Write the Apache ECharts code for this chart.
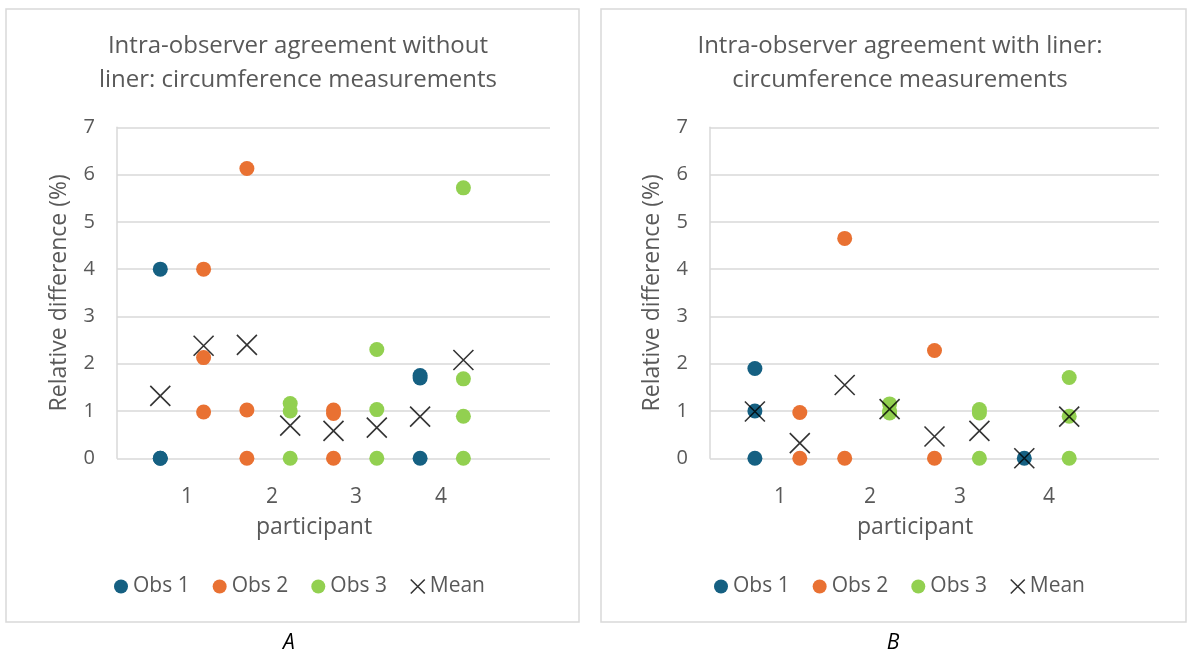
<!DOCTYPE html>
<html>
<head>
<meta charset="utf-8">
<script src="https://cdn.jsdelivr.net/npm/echarts@6/dist/echarts.min.js"></script>
<style>
  html, body { margin: 0; padding: 0; background: #ffffff; }
  #chart { width: 1189px; height: 657px; }
</style>
</head>
<body>
<div id="chart"></div>
<script>
// Relative difference (%) between repeated circumference measurements.
// Each point is [slot, value]; slots 1-8 run two per participant.
const participantLabels = ['1', '2', '3', '4'];
const seriesNames = ['Obs 1', 'Obs 2', 'Obs 3', 'Mean'];
const panelTitles = [
  'Intra-observer agreement without\nliner: circumference measurements',
  'Intra-observer agreement with liner:\ncircumference measurements'
];
const panelCaptions = ['A', 'B'];

// Without liner
const noLinerObs1 = [[1, 4.0], [1, 0], [1, 0], [7, 1.75], [7, 1.70], [7, 0]];
const noLinerObs2 = [[2, 4.0], [2, 2.13], [2, 0.98], [3, 6.13], [3, 1.02], [3, 0],
                     [5, 1.02], [5, 0.95], [5, 0]];
const noLinerObs3 = [[4, 1.16], [4, 1.0], [4, 0], [6, 2.30], [6, 1.03], [6, 0],
                     [8, 5.72], [8, 1.68], [8, 0.89], [8, 0]];
const noLinerMean = [[1, 1.32], [2, 2.38], [3, 2.40], [4, 0.69], [5, 0.58], [6, 0.65],
                     [7, 0.88], [8, 2.08]];

// With liner
const linerObs1 = [[1, 1.90], [1, 1.0], [1, 0], [7, 0]];
const linerObs2 = [[2, 0.97], [2, 0], [3, 4.65], [3, 0], [5, 2.28], [5, 0]];
const linerObs3 = [[4, 1.15], [4, 1.0], [4, 0.96], [6, 1.03], [6, 0.96], [6, 0],
                   [8, 1.71], [8, 0.89], [8, 0]];
const linerMean = [[1, 0.99], [2, 0.32], [3, 1.55], [4, 1.04], [5, 0.46], [6, 0.58],
                   [7, 0], [8, 0.88]];

const panels = [
  { obs: [noLinerObs1, noLinerObs2, noLinerObs3], mean: noLinerMean },
  { obs: [linerObs1, linerObs2, linerObs3], mean: linerMean }
];

const colors = ['#156082', '#E97132', '#92D050'];
const FONT = '"Open Sans", sans-serif';
const TEXT = '#595959';
const GRID_LINE = '#D9D9D9';
const CROSS = 'path://M0,0L20,20M20,0L0,20';

// Panel frames and plot areas (pixels)
const frames = [
  { x: 6, y: 9, w: 573, h: 613 },
  { x: 601, y: 9, w: 585, h: 613 }
];
const plots = [
  { left: 117, width: 433, titleX: 293, axisTitleX: 314, legendX: 109, captionX: 289,
    tickX: [187, 272, 356, 441] },
  { left: 710, width: 449, titleX: 895, axisTitleX: 915, legendX: 709, captionX: 893,
    tickX: [780, 870, 960, 1049] }
];
const PLOT_TOP = 127.3;
const PLOT_HEIGHT = 331;

const chart = echarts.init(document.getElementById('chart'), null, { renderer: 'canvas' });

const grid = plots.map(p => ({
  left: p.left, top: PLOT_TOP, width: p.width, height: PLOT_HEIGHT, containLabel: false
}));

const xAxis = plots.map((p, i) => ({
  type: 'value', gridIndex: i, min: 0, max: 10, show: false
}));

const yAxis = plots.map((p, i) => ({
  type: 'value', gridIndex: i, min: 0, max: 7, interval: 1,
  name: 'Relative difference (%)',
  nameLocation: 'middle', nameRotate: 90, nameGap: 46,
  nameTextStyle: { fontFamily: FONT, fontSize: 23, color: TEXT },
  axisLine: { show: true, lineStyle: { color: GRID_LINE, width: 1.5 } },
  axisTick: { show: false },
  axisLabel: { fontFamily: FONT, fontSize: 20, color: TEXT, margin: 22 },
  splitLine: { show: true, lineStyle: { color: GRID_LINE, width: 1.5 } }
}));

const series = [];
panels.forEach((panel, i) => {
  panel.obs.forEach((data, k) => {
    series.push({
      name: seriesNames[k], type: 'scatter', xAxisIndex: i, yAxisIndex: i,
      data: data, symbol: 'circle', symbolSize: 15,
      itemStyle: { color: colors[k], opacity: 1 },
      emphasis: { disabled: true }
    });
  });
  series.push({
    name: seriesNames[3], type: 'scatter', xAxisIndex: i, yAxisIndex: i,
    data: panel.mean, symbol: CROSS, symbolSize: 20, z: 5,
    itemStyle: { color: 'rgba(0,0,0,0)', borderColor: '#000000', borderWidth: 1.6 },
    emphasis: { disabled: true }
  });
});

const legend = plots.map(p => ({
  left: p.legendX, top: 571, itemWidth: 14, itemHeight: 14, itemGap: 23,
  textStyle: { fontFamily: FONT, fontSize: 21, color: TEXT },
  data: seriesNames.map((n, k) => k < 3
    ? { name: n, icon: 'circle', itemStyle: { color: colors[k] } }
    : { name: n, icon: CROSS, itemStyle: { color: 'rgba(0,0,0,0)', borderColor: '#000', borderWidth: 1.6 } })
}));

const title = plots.map((p, i) => ({
  text: panelTitles[i], left: p.titleX, top: 24, textAlign: 'center',
  textStyle: { fontFamily: FONT, fontSize: 24, fontWeight: 'normal', color: TEXT, lineHeight: 34 }
}));

const graphic = [];
frames.forEach(f => {
  graphic.push({
    type: 'rect', shape: { x: f.x, y: f.y, width: f.w, height: f.h },
    style: { fill: 'none', stroke: GRID_LINE, lineWidth: 1.5 }, silent: true
  });
});
plots.forEach((p, i) => {
  participantLabels.forEach((lab, j) => {
    graphic.push({
      type: 'text', x: p.tickX[j], y: 497,
      style: { text: lab, fontFamily: FONT, fontSize: 21, fill: TEXT,
               align: 'center', verticalAlign: 'middle' }, silent: true
    });
  });
  graphic.push({
    type: 'text', x: p.axisTitleX, y: 527,
    style: { text: 'participant', fontFamily: FONT, fontSize: 23, fill: TEXT,
             align: 'center', verticalAlign: 'middle' }, silent: true
  });
  graphic.push({
    type: 'text', x: p.captionX, y: 643,
    style: { text: panelCaptions[i], fontFamily: FONT, fontSize: 21, fontStyle: 'italic',
             fill: '#000000', align: 'center', verticalAlign: 'middle' }, silent: true
  });
});

chart.setOption({
  backgroundColor: '#ffffff',
  animation: false,
  title, grid, xAxis, yAxis, legend, series, graphic
});
</script>
</body>
</html>
